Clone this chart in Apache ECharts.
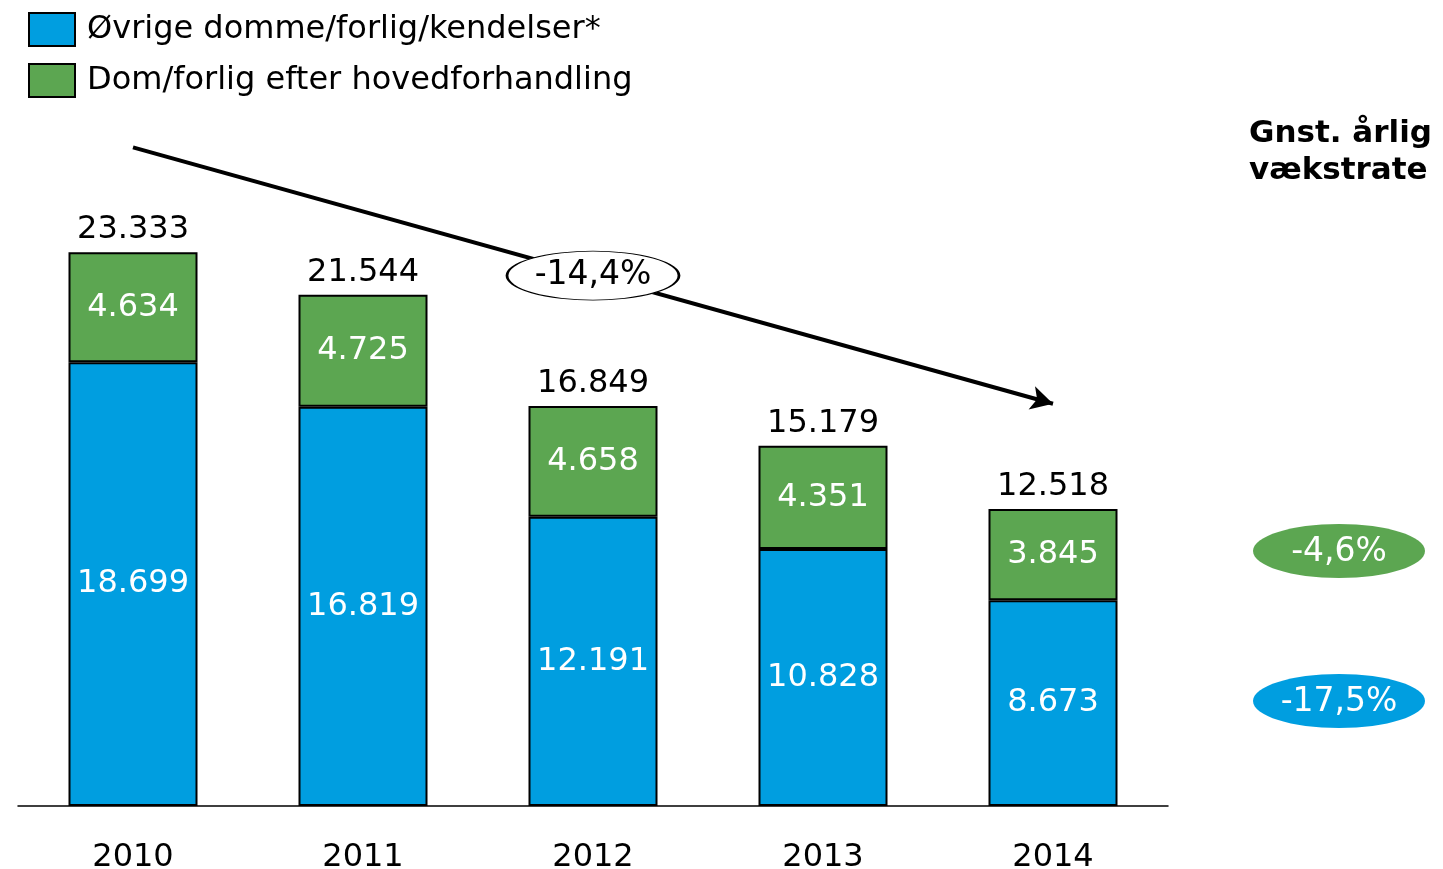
<!DOCTYPE html>
<html>
<head>
<meta charset="utf-8">
<script src="https://cdn.jsdelivr.net/npm/echarts@6/dist/echarts.min.js"></script>
<style>
  html, body { margin: 0; padding: 0; background: #fff; }
  #chart { width: 1443px; height: 869px; }
</style>
</head>
<body>
<div id="chart"></div>
<script>
// data
var years = ['2010', '2011', '2012', '2013', '2014'];
var oevrige = [18699, 16819, 12191, 10828, 8673];
var hovedforhandling = [4634, 4725, 4658, 4351, 3845];
var totals = [23333, 21544, 16849, 15179, 12518];
var seriesNames = ['Øvrige domme/forlig/kendelser*', 'Dom/forlig efter hovedforhandling'];
var totalGrowth = '-14,4%';
var growthRates = ['-4,6%', '-17,5%'];   // green, blue
var trendFrom = 27750;   // arrow start level at 2010
var trendTo = 16950;     // arrow end level at 2014

var BLUE = '#009EE0';
var GREEN = '#5CA651';
var FONT = "'DejaVu Sans', Verdana, sans-serif";
var FS = 32;

function fmt(v) {
    return String(v).replace(/\B(?=(\d{3})+(?!\d))/g, '.');
}

var chart = echarts.init(document.getElementById('chart'));

var option = {
    animation: false,
    textStyle: { fontFamily: FONT },
    legend: {
        orient: 'vertical',
        left: 28,
        top: 12,
        padding: 0,
        itemWidth: 46,
        itemHeight: 33,
        itemGap: 16,
        icon: 'rect',
        data: seriesNames,
        textStyle: { fontSize: FS, color: '#000', fontFamily: FONT, padding: [0, 0, 0, 7] }
    },
    grid: { left: 18, right: 275, top: 94, bottom: 63, outerBoundsMode: 'none' },
    xAxis: {
        type: 'category',
        data: years,
        axisLine: { lineStyle: { color: '#000', width: 1.5 } },
        axisTick: { show: false },
        axisLabel: { fontSize: FS, color: '#000', margin: 36, fontFamily: FONT }
    },
    yAxis: {
        type: 'value',
        min: 0,
        max: 30000,
        show: false,
        splitLine: { show: false }
    },
    series: [
        {
            name: seriesNames[0],
            type: 'bar',
            stack: 'sum',
            barWidth: 129,
            data: oevrige,
            itemStyle: { color: BLUE, borderColor: '#000', borderWidth: 2 },
            label: {
                show: true, position: 'inside', color: '#fff', fontSize: FS, fontFamily: FONT,
                formatter: function (p) { return fmt(p.value); }
            }
        },
        {
            name: seriesNames[1],
            type: 'bar',
            stack: 'sum',
            barWidth: 129,
            data: hovedforhandling,
            itemStyle: { color: GREEN, borderColor: '#000', borderWidth: 2 },
            label: {
                show: true, position: 'inside', color: '#fff', fontSize: FS, fontFamily: FONT,
                formatter: function (p) { return fmt(p.value); }
            }
        },
        {
            name: 'total',
            type: 'scatter',
            data: totals,
            symbolSize: 1,
            itemStyle: { color: 'rgba(0,0,0,0)', opacity: 1 },
            label: {
                show: true, position: 'top', distance: 6, color: '#000', fontSize: FS, fontFamily: FONT,
                formatter: function (p) { return fmt(p.value); }
            },
            z: 4
        },
        {
            name: 'trend',
            type: 'line',
            data: [],
            markLine: {
                silent: true,
                symbol: ['none', 'arrow'],
                symbolSize: [18, 22],
                label: { show: false },
                lineStyle: { color: '#000', width: 4, type: 'solid', opacity: 1 },
                data: [[
                    { coord: [years[0], trendFrom] },
                    { coord: [years[4], trendTo] }
                ]]
            },
            z: 5
        },
        {
            name: 'trendLabel',
            type: 'line',
            data: [],
            markPoint: {
                silent: true,
                symbol: 'circle',
                symbolSize: [172, 49],
                itemStyle: { color: '#fff', borderColor: '#000', borderWidth: 1.5 },
                label: { show: true, color: '#000', fontSize: 33, fontFamily: FONT, formatter: totalGrowth },
                data: [{ coord: [years[2], (trendFrom + trendTo) / 2] }]
            },
            z: 6
        }
    ],
    graphic: [
        {
            type: 'text',
            left: 1249,
            top: 115,
            style: {
                text: 'Gnst. årlig\nvækstrate',
                font: 'bold 31px ' + FONT,
                lineHeight: 37,
                fill: '#000'
            }
        },
        {
            type: 'group',
            left: 1253,
            top: 524,
            children: [
                { type: 'ellipse', shape: { cx: 86, cy: 27, rx: 86, ry: 27 }, style: { fill: GREEN } },
                { type: 'text', x: 86, y: 28, style: { text: growthRates[0], font: '33px ' + FONT, fill: '#fff', align: 'center', verticalAlign: 'middle' } }
            ]
        },
        {
            type: 'group',
            left: 1253,
            top: 674,
            children: [
                { type: 'ellipse', shape: { cx: 86, cy: 27, rx: 86, ry: 27 }, style: { fill: BLUE } },
                { type: 'text', x: 86, y: 28, style: { text: growthRates[1], font: '33px ' + FONT, fill: '#fff', align: 'center', verticalAlign: 'middle' } }
            ]
        }
    ]
};

chart.setOption(option);
</script>
</body>
</html>
